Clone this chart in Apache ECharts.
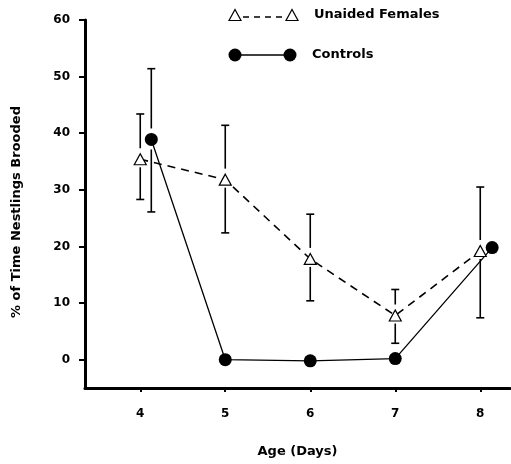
<!DOCTYPE html>
<html><head><meta charset="utf-8">
<script src="https://cdn.jsdelivr.net/npm/echarts@6/dist/echarts.min.js"></script>
<style>html,body{margin:0;padding:0;background:#fff}#c{width:511px;height:464px}</style>
</head><body><div id="c"></div>
<script>
// ---- data ----
const days = [4, 5, 6, 7, 8];
const yTicks = [0, 10, 20, 30, 40, 50, 60];
const unaidedX = [4, 5, 6, 7, 8];
const unaidedMean = [35.4, 31.8, 17.8, 7.8, 19.2];
const unaidedLow = [28.3, 22.4, 10.4, 2.9, 7.4];
const unaidedHigh = [43.4, 41.4, 25.7, 12.4, 30.5];
const controlX = [4.13, 5, 6, 7, 8.14];
const controlMean = [38.9, 0, -0.2, 0.2, 19.8];
const controlLow = [26.1, null, null, null, null];
const controlHigh = [51.4, null, null, null, null];
const seriesNames = ['Unaided Females', 'Controls'];

const FONT = '"DejaVu Sans", "Liberation Sans", Arial, sans-serif';

function errItem(gapUp, gapDown) {
  return function (params, api) {
    const x = api.value(0), m = api.value(1), lo = api.value(2), hi = api.value(3);
    const pm = api.coord([x, m]), pl = api.coord([x, lo]), ph = api.coord([x, hi]);
    const cap = 4;
    const style = { stroke: '#000', lineWidth: 1.6 };
    return { type: 'group', children: [
      { type: 'line', shape: { x1: ph[0], y1: ph[1], x2: ph[0], y2: pm[1] - gapUp }, style },
      { type: 'line', shape: { x1: pl[0], y1: pm[1] + gapDown, x2: pl[0], y2: pl[1] }, style },
      { type: 'line', shape: { x1: ph[0] - cap, y1: ph[1], x2: ph[0] + cap, y2: ph[1] }, style },
      { type: 'line', shape: { x1: pl[0] - cap, y1: pl[1], x2: pl[0] + cap, y2: pl[1] }, style }
    ]};
  };
}

const unaidedPts = unaidedX.map((x, i) => [x, unaidedMean[i]]);
const controlPts = controlX.map((x, i) => [x, controlMean[i]]);
const unaidedErr = unaidedX.map((x, i) => [x, unaidedMean[i], unaidedLow[i], unaidedHigh[i]]);
const controlErr = controlX.map((x, i) => [x, controlMean[i], controlLow[i], controlHigh[i]])
  .filter(d => d[2] !== null);

const chart = echarts.init(document.getElementById('c'));
const textBold = { fontFamily: FONT, fontWeight: 'bold', fontSize: 12, color: '#000' };
const nameBold = { ...textBold, fontSize: 13 };

chart.setOption({
  animation: false,
  backgroundColor: '#fff',
  grid: { left: 85, right: 1, top: 20, bottom: 76 },
  xAxis: {
    type: 'value', min: 3.35, max: 8.35,
    name: 'Age (Days)', nameLocation: 'middle', nameGap: 57,
    nameTextStyle: nameBold,
    axisLine: { show: true, onZero: false, lineStyle: { color: '#000', width: 3 } },
    axisTick: { show: true, customValues: days, length: 4, lineStyle: { color: '#000', width: 2 } },
    axisLabel: { customValues: days, margin: 20, ...textBold },
    splitLine: { show: false }
  },
  yAxis: {
    type: 'value', min: -5, max: 60,
    name: '% of Time Nestlings Brooded', nameLocation: 'middle', nameGap: 62,
    nameTextStyle: { ...nameBold, padding: [0, 16, 0, 0] },
    axisLine: { show: true, onZero: false, lineStyle: { color: '#000', width: 3 } },
    axisTick: { show: true, customValues: yTicks, length: 6, lineStyle: { color: '#000', width: 2 } },
    axisLabel: { customValues: yTicks, margin: 15, ...textBold },
    splitLine: { show: false }
  },
  series: [
    { type: 'custom', z: 1, renderItem: errItem(11, 8), data: unaidedErr, silent: true },
    { type: 'custom', z: 1, renderItem: errItem(11, 10), data: controlErr, silent: true },
    {
      name: seriesNames[0], type: 'line', z: 3, data: unaidedPts,
      symbol: 'triangle', symbolSize: [12, 11],
      itemStyle: { color: '#fff', borderColor: '#000', borderWidth: 1.2 },
      lineStyle: { color: '#000', width: 1.6, type: [8, 6] }
    },
    {
      name: seriesNames[1], type: 'line', z: 2, data: controlPts,
      symbol: 'circle', symbolSize: 13,
      itemStyle: { color: '#000' },
      lineStyle: { color: '#000', width: 1.3 }
    }
  ],
  graphic: [
    { type: 'polygon', shape: { points: [[229, 20.5], [241, 20.5], [235, 9.5]] }, style: { fill: '#fff', stroke: '#000', lineWidth: 1.2 } },
    { type: 'line', shape: { x1: 243, y1: 17, x2: 284, y2: 17 }, style: { stroke: '#000', lineWidth: 1.6, lineDash: [6, 5] } },
    { type: 'polygon', shape: { points: [[286, 20.5], [298, 20.5], [292, 9.5]] }, style: { fill: '#fff', stroke: '#000', lineWidth: 1.2 } },
    { type: 'text', x: 314, y: 15, style: { text: seriesNames[0], font: 'bold 13px ' + FONT, fill: '#000', verticalAlign: 'middle' } },
    { type: 'circle', shape: { cx: 235, cy: 55, r: 6.5 }, style: { fill: '#000' } },
    { type: 'line', shape: { x1: 241, y1: 55, x2: 284, y2: 55 }, style: { stroke: '#000', lineWidth: 1.6 } },
    { type: 'circle', shape: { cx: 290, cy: 55, r: 6.5 }, style: { fill: '#000' } },
    { type: 'text', x: 312, y: 55, style: { text: seriesNames[1], font: 'bold 13px ' + FONT, fill: '#000', verticalAlign: 'middle' } }
  ]
});
</script>
</body></html>
